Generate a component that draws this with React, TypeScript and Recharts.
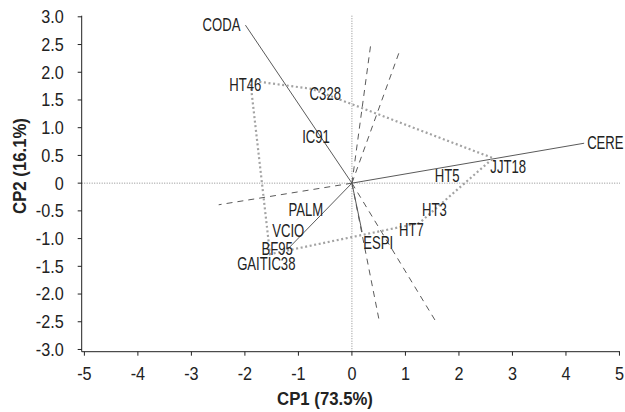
import React from 'react';
import { ScatterChart, Scatter, XAxis, YAxis, ReferenceLine, Label } from 'recharts';

const FONT = "'Liberation Sans', Arial, sans-serif";

const xTicks = [-5, -4, -3, -2, -1, 0, 1, 2, 3, 4, 5];
const yTicks = [-3, -2.5, -2, -1.5, -1, -0.5, 0, 0.5, 1, 1.5, 2, 2.5, 3];

// genotype scores (CP1, CP2)
const genotypes = [
  { name: 'HT46', x: -1.9, y: 1.85 },
  { name: 'C328', x: -0.75, y: 1.7 },
  { name: 'IC91', x: -0.67, y: 0.83 },
  { name: 'PALM', x: -0.86, y: -0.48 },
  { name: 'VCIO', x: -1.19, y: -0.86 },
  { name: 'BF95', x: -1.53, y: -1.28 },
  { name: 'GAITIC38', x: -1.6, y: -1.46 },
  { name: 'ESPI', x: 0.49, y: -1.08 },
  { name: 'HT7', x: 1.26, y: -0.72 },
  { name: 'HT3', x: 1.54, y: -0.48 },
  { name: 'HT5', x: 1.78, y: 0.13 },
  { name: 'JJT18', x: 2.64, y: 0.45 },
];

// convex hull order
const hullOrder = ['HT46', 'C328', 'JJT18', 'HT3', 'HT7', 'BF95', 'HT46'];

// variable vectors drawn solid
const namedVectors = [
  { name: 'CODA', x: -1.99, y: 2.85 },
  { name: 'CERE', x: 4.34, y: 0.72 },
];
const solidVectors = [
  { x: -1.21, y: -1.2 },
  { x: 0.19, y: -0.88 },
];
// variable vectors drawn dashed
const dashedVectors = [
  { x: 0.35, y: 2.49 },
  { x: 0.89, y: 2.38 },
  { x: 0.52, y: -2.53 },
  { x: 1.59, y: -2.53 },
  { x: -2.49, y: -0.39 },
];

// label placement (pixel offsets / anchors)
const labelOffsets: Record<string, [number, number]> = {
  HT46: [-5, 4.5],
  C328: [13.5, 5.3],
  JJT18: [15, 9],
  HT7: [-8, 7],
  BF95: [7, -5],
};
const vectorLabelAnchor: Record<string, 'start' | 'end'> = { CODA: 'end', CERE: 'start' };

const origin = { x: 0, y: 0 };
const hullData = hullOrder.map((n) => {
  const g = genotypes.find((p) => p.name === n)!;
  return { x: g.x, y: g.y };
});

const TEXT = '#222';
const LINE = '#5a5a5a';

const NarrowText = ({
  x,
  y,
  scale,
  anchor,
  baseline,
  dy,
  size,
  bold,
  rotate,
  children,
}: any) => (
  <text
    transform={`translate(${x},${y})${rotate ? ` rotate(${rotate})` : ''} scale(${scale},1)`}
    x={0}
    y={0}
    dy={dy}
    textAnchor={anchor}
    dominantBaseline={baseline}
    fontFamily={FONT}
    fontSize={size}
    fontWeight={bold ? 'bold' : 'normal'}
    fill={TEXT}
  >
    {children}
  </text>
);

const noShape = () => <g />;

const genotypeLabel = (props: any) => {
  const { cx, cy, payload } = props;
  const off = labelOffsets[payload.name] || [0, 0];
  return (
    <NarrowText x={cx + off[0]} y={cy + off[1]} scale={0.75} anchor="middle" baseline="central" size={17.5}>
      {payload.name}
    </NarrowText>
  );
};

const vectorLabel = (props: any) => {
  const { cx, cy, payload } = props;
  if (!payload.name) return <g />;
  const anchor = vectorLabelAnchor[payload.name];
  return (
    <NarrowText
      x={anchor === 'end' ? cx - 5 : cx + 3}
      y={cy}
      scale={0.75}
      anchor={anchor}
      baseline="central"
      size={17.5}
    >
      {payload.name}
    </NarrowText>
  );
};

const xTitle = () => (
  <NarrowText x={325} y={405} scale={0.93} anchor="middle" size={18} bold>
    CP1 (73.5%)
  </NarrowText>
);
const yTitle = () => (
  <NarrowText x={26} y={166} rotate={-90} scale={0.93} anchor="middle" size={18} bold>
    CP2 (16.1%)
  </NarrowText>
);

const XTick = (props: any) => (
  <NarrowText x={props.x} y={props.y} scale={0.9} anchor="middle" dy="0.71em" size={18}>
    {String(props.payload.value)}
  </NarrowText>
);
const YTick = (props: any) => {
  const v = props.payload.value as number;
  return (
    <NarrowText x={props.x} y={props.y} scale={0.9} anchor="end" dy="0.355em" size={18}>
      {v === 0 ? '0' : v.toFixed(1)}
    </NarrowText>
  );
};

export default function App() {
  return (
    <div style={{ position: 'absolute', left: 0, top: 0, width: 625, height: 412, background: '#fff' }}>
      <ScatterChart width={625} height={412} margin={{ top: 15.7, right: 5, bottom: 0, left: 0 }}>
        <XAxis
          type="number"
          dataKey="x"
          domain={[-5.05, 5.01]}
          ticks={xTicks}
          interval={0}
          tickSize={4}
          tickMargin={12}
          stroke="#222"
          tick={XTick}
          height={60.3}
        >
          <Label content={xTitle} />
        </XAxis>
        <YAxis
          type="number"
          dataKey="y"
          domain={[-3.04, 3.02]}
          ticks={yTicks}
          interval={0}
          tickSize={4}
          tickMargin={14}
          stroke="#222"
          tick={YTick}
          width={81.7}
        >
          <Label content={yTitle} />
        </YAxis>
        <ReferenceLine x={0} stroke="#8c8c8c" strokeWidth={1} strokeDasharray="1 1.5" />
        <ReferenceLine y={0} stroke="#8c8c8c" strokeWidth={1} strokeDasharray="1 1.5" />
        {dashedVectors.map((v, i) => (
          <Scatter
            key={'d' + i}
            data={[origin, v]}
            line={{ stroke: LINE, strokeWidth: 1, strokeDasharray: '6 5' }}
            shape={noShape}
            isAnimationActive={false}
          />
        ))}
        {solidVectors.map((v, i) => (
          <Scatter
            key={'s' + i}
            data={[origin, v]}
            line={{ stroke: LINE, strokeWidth: 1 }}
            shape={noShape}
            isAnimationActive={false}
          />
        ))}
        {namedVectors.map((v) => (
          <Scatter
            key={v.name}
            data={[origin, v]}
            line={{ stroke: LINE, strokeWidth: 1 }}
            shape={vectorLabel}
            isAnimationActive={false}
          />
        ))}
        <Scatter
          data={hullData}
          line={{ stroke: '#a3a3a3', strokeWidth: 2.2, strokeDasharray: '2 2.6' }}
          shape={noShape}
          isAnimationActive={false}
        />
        <Scatter data={genotypes} shape={genotypeLabel} isAnimationActive={false} />
      </ScatterChart>
    </div>
  );
}
